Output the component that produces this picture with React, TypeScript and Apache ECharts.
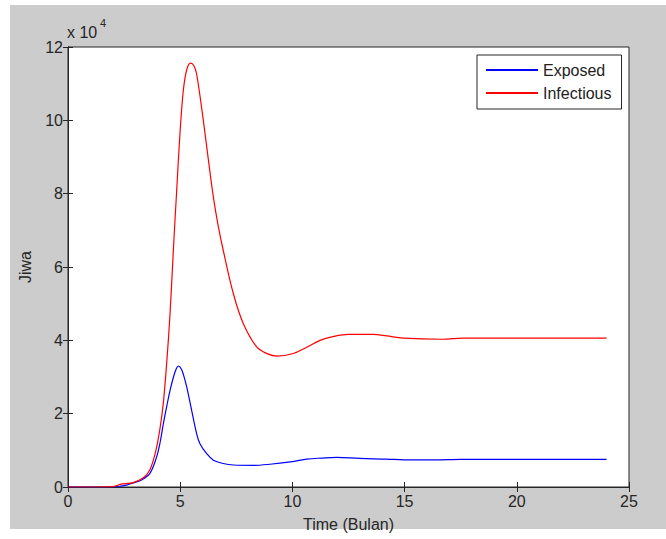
import React, { useEffect, useRef } from "react";
import * as echarts from "echarts";

const timeExposed = [0, 1, 2, 2.3, 2.6, 2.9, 3.3, 3.65, 3.95, 4.1, 4.25, 4.4, 4.55, 4.7, 4.82, 4.92, 5.05, 5.15, 5.29, 5.51, 5.73, 5.88, 6.18, 6.48, 6.92, 7.37, 8.3, 9.0, 10.0, 10.64, 11.3, 11.97, 13, 14.2, 15, 16.4, 17.5, 24];
const exposed = [0, 0, 0, 200, 500, 1100, 2000, 3700, 8200, 12000, 17300, 22000, 26400, 30000, 32200, 33000, 32200, 30500, 27300, 20900, 14600, 11800, 9100, 7300, 6400, 6000, 5900, 6200, 6900, 7600, 7900, 8100, 7800, 7600, 7400, 7400, 7550, 7550];

const timeInfectious = [0, 1, 2, 2.32, 2.9, 3.36, 3.65, 3.9, 4.1, 4.25, 4.4, 4.55, 4.69, 4.84, 4.99, 5.14, 5.3, 5.47, 5.6, 5.73, 6.03, 6.25, 6.48, 6.7, 6.92, 7.37, 7.81, 8.41, 8.9, 9.3, 10.04, 10.6, 11.23, 11.8, 12.5, 13.6, 14.2, 14.94, 16.7, 17.6, 24];
const infectious = [0, 0, 100, 700, 1200, 2500, 4700, 9500, 16000, 23000, 34000, 47500, 64000, 80500, 96400, 108200, 114000, 115600, 115000, 112700, 100000, 89500, 79000, 71000, 64500, 52700, 44600, 38200, 36300, 35700, 36400, 38000, 40000, 41000, 41600, 41600, 41200, 40600, 40300, 40600, 40600];

const seriesNames = ["Exposed", "Infectious"];
const xTicks = { min: 0, max: 25, interval: 5 };
const yTicks = { min: 0, max: 120000, interval: 20000 };
const yScaleText = "x 10";
const yScaleExp = "4";

const FONT = "'Liberation Sans', Arial, Helvetica, sans-serif";
const INK = "#262626";

export default function App() {
  const ref = useRef<HTMLDivElement>(null);
  useEffect(() => {
    if (!ref.current) return;
    const chart = echarts.init(ref.current, undefined, { renderer: "svg" });
    const axisCommon = {
      type: "value" as const,
      axisLine: { show: true, lineStyle: { color: INK, width: 1 } },
      axisTick: { show: true, inside: true, length: 5, lineStyle: { color: INK } },
      splitLine: { show: false },
    };
    const toPairs = (xs: number[], ys: number[]) => xs.map((x, i) => [x, ys[i]]);
    chart.setOption({
      animation: false,
      backgroundColor: "#ffffff",
      textStyle: { fontFamily: FONT },
      graphic: [
        {
          type: "rect",
          z: -100,
          silent: true,
          shape: { x: 10, y: 5, width: 656, height: 524 },
          style: { fill: "#cccccc" },
        },
        {
          type: "text",
          x: 67,
          y: 32.5,
          style: { text: yScaleText, fontSize: 16, fontFamily: FONT, fill: INK, verticalAlign: "middle", align: "left" },
        },
        {
          type: "text",
          x: 100,
          y: 23,
          style: { text: yScaleExp, fontSize: 11, fontFamily: FONT, fill: INK, verticalAlign: "middle", align: "left" },
        },
      ],
      grid: {
        left: 68,
        top: 47,
        right: 37,
        bottom: 52,
        show: true,
        backgroundColor: "#ffffff",
        borderColor: INK,
        borderWidth: 1,
      },
      legend: {
        data: seriesNames,
        orient: "vertical",
        left: 477,
        top: 55,
        padding: [7, 10, 8, 9],
        itemWidth: 52,
        itemHeight: 2,
        itemGap: 7,
        icon: "rect",
        backgroundColor: "#ffffff",
        borderColor: INK,
        borderWidth: 1,
        textStyle: { fontSize: 16, color: "#222", fontFamily: FONT, lineHeight: 16 },
      },
      xAxis: [
        {
          ...axisCommon,
          position: "bottom",
          ...xTicks,
          axisLabel: { margin: 6, fontSize: 16, color: INK, fontFamily: FONT },
          name: "Time (Bulan)",
          nameLocation: "middle",
          nameGap: 29,
          nameTextStyle: { fontSize: 16, color: INK, fontFamily: FONT },
        },
        {
          ...axisCommon,
          position: "top",
          ...xTicks,
          axisLabel: { show: false },
        },
      ],
      yAxis: [
        {
          ...axisCommon,
          position: "left",
          ...yTicks,
          axisLabel: {
            margin: 5,
            fontSize: 16,
            color: INK,
            fontFamily: FONT,
            formatter: (v: number) => String(v / 10000),
          },
          name: "Jiwa",
          nameLocation: "middle",
          nameGap: 35,
          nameTextStyle: { fontSize: 16, color: INK, fontFamily: FONT },
        },
        {
          ...axisCommon,
          position: "right",
          ...yTicks,
          axisLabel: { show: false },
        },
      ],
      series: [
        {
          name: seriesNames[0],
          type: "line",
          xAxisIndex: 0,
          yAxisIndex: 0,
          data: toPairs(timeExposed, exposed),
          showSymbol: false,
          smooth: 0.35,
          lineStyle: { color: "#0000ff", width: 1.2 },
          itemStyle: { color: "#0000ff" },
        },
        {
          name: seriesNames[1],
          type: "line",
          xAxisIndex: 0,
          yAxisIndex: 0,
          data: toPairs(timeInfectious, infectious),
          showSymbol: false,
          smooth: 0.35,
          lineStyle: { color: "#ff0000", width: 1.2 },
          itemStyle: { color: "#ff0000" },
        },
      ],
    });
    return () => chart.dispose();
  }, []);
  return (
    <div
      ref={ref}
      style={{ position: "fixed", left: 0, top: 0, width: 666, height: 539 }}
    />
  );
}
